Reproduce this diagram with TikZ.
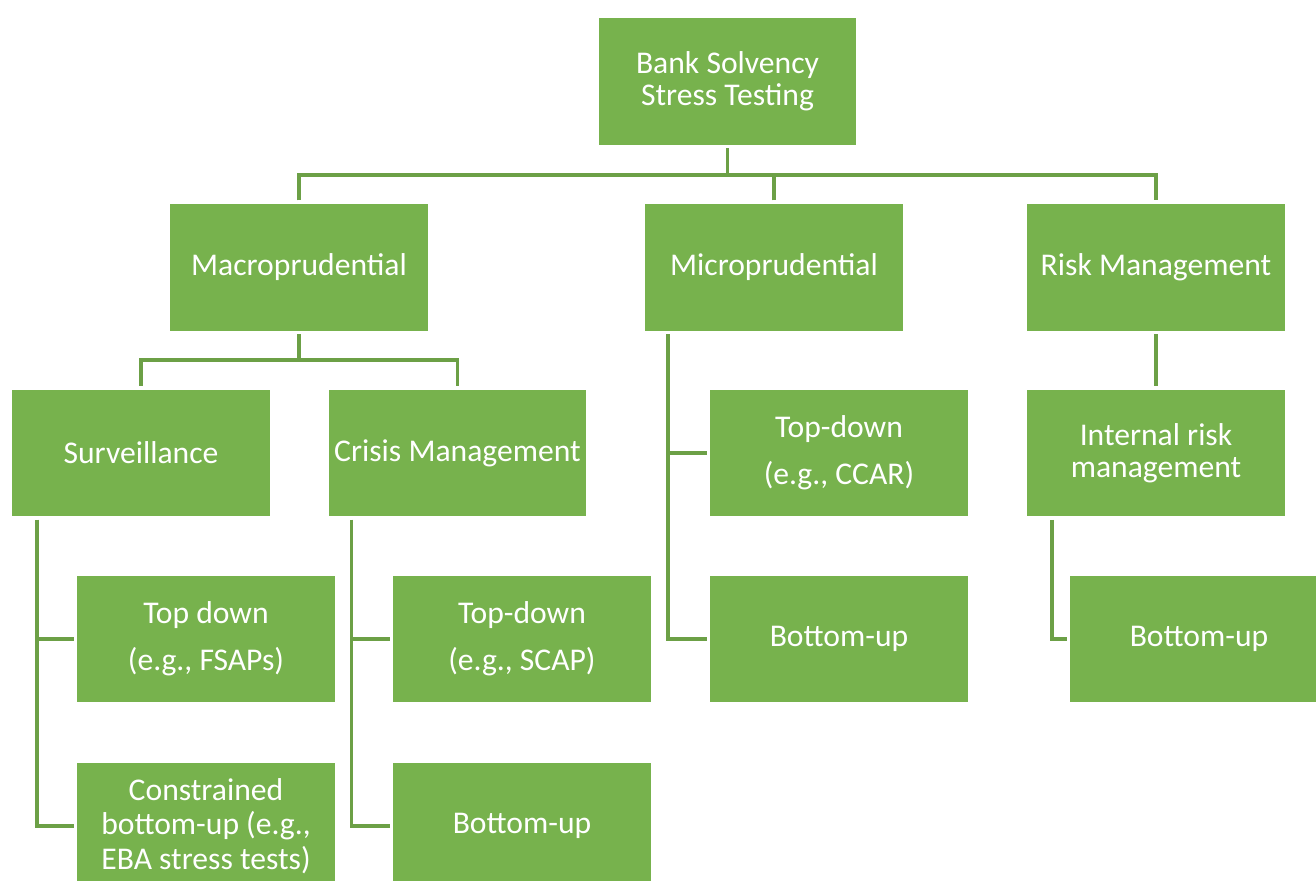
\documentclass[tikz,border=0pt]{standalone}
\usepackage{fontspec}
\setmainfont{Carlito}
\definecolor{boxgreen}{RGB}{119,178,77}
\definecolor{linegreen}{RGB}{108,160,70}
\begin{document}
\begin{tikzpicture}[x=0.02cm,y=-0.02cm,
  box/.style={fill=boxgreen,text=white,minimum width=5.16cm,minimum height=2.54cm,
    align=center,inner sep=1pt,outer sep=2pt,font=\fontsize{18}{18}\selectfont},
  widebox/.style={box,font=\fontsize{18}{27}\selectfont},
  link/.style={draw=linegreen,line width=1.8pt}]
\clip (0,0) rectangle (1316,881);
\fill[white] (0,0) rectangle (1316,881);

\node[box] (root) at (727.5,81.5) {Bank Solvency\\Stress Testing};

\node[box] (macro) at (299,267.5) {Macroprudential};
\node[box] (micro) at (774,267.5) {Microprudential};
\node[box] (risk) at (1156,267.5) {Risk Management};

\node[box] (surv) at (141,453) {Surveillance};
\node[box] (crisis) at (457.5,453) {Crisis Management};
\node[widebox] (ccar) at (839,453) {Top-down\\(e.g., CCAR)};
\node[box] (internal) at (1156,453) {Internal risk\\management};

\node[widebox] (fsap) at (206,639) {Top down\\(e.g., FSAPs)};
\node[widebox] (scap) at (522,639) {Top-down\\(e.g., SCAP)};
\node[box] (microbu) at (839,639) {Bottom-up};
\node[box] (riskbu) at (1199,639) {Bottom-up};

\node[box,font=\fontsize{18}{19.6}\selectfont] (eba) at (206,826) {Constrained\\bottom-up (e.g.,\\EBA stress tests)};
\node[box] (crisisbu) at (522,826) {Bottom-up};

\coordinate (top bus) at (727.5,175);
\coordinate (macro bus) at (299,360);
\coordinate (surv trunk) at ([xshift=0.57cm]surv.south west);
\coordinate (crisis trunk) at ([xshift=0.53cm]crisis.south west);
\coordinate (micro trunk) at ([xshift=0.53cm]micro.south west);
\coordinate (internal trunk) at ([xshift=0.57cm]internal.south west);

\draw[link] (root.south) -- (top bus);
\draw[link] (macro.north) -- (macro.north |- top bus) -- (risk.north |- top bus) -- (risk.north);
\draw[link] (micro.north) -- (micro.north |- top bus);

\draw[link] (macro.south) -- (macro bus);
\draw[link] (surv.north) -- (surv.north |- macro bus) -- (crisis.north |- macro bus) -- (crisis.north);

\draw[link] (surv trunk) |- (fsap.west);
\draw[link] (surv trunk) |- (eba.west);
\draw[link] (crisis trunk) |- (scap.west);
\draw[link] (crisis trunk) |- (crisisbu.west);
\draw[link] (micro trunk) |- (ccar.west);
\draw[link] (micro trunk) |- (microbu.west);
\draw[link] (risk.south) -- (internal.north);
\draw[link] (internal trunk) |- (riskbu.west);
\end{tikzpicture}
\end{document}
